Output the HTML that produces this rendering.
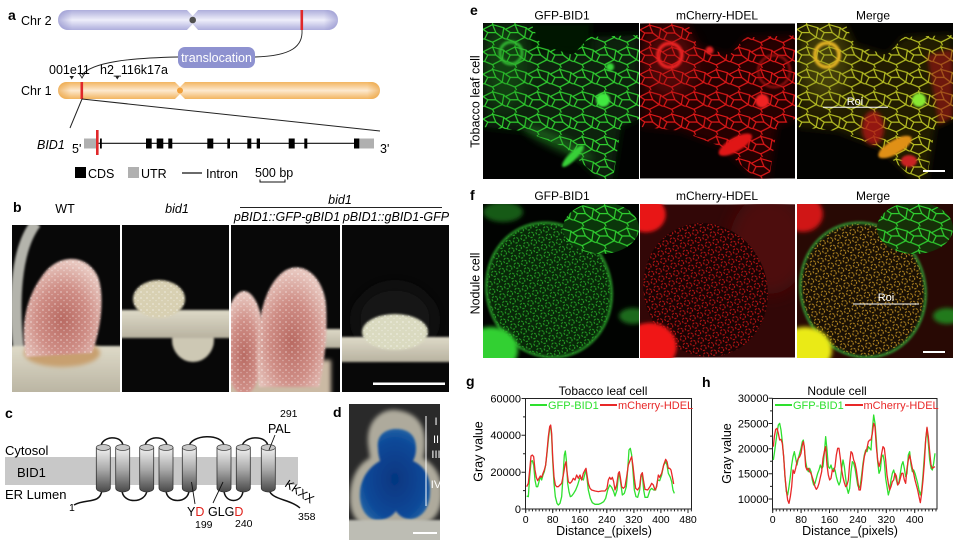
<!DOCTYPE html>
<html><head><meta charset="utf-8"><style>
html,body{margin:0;padding:0;background:#fff;}
svg{display:block;font-family:"Liberation Sans",Arial,sans-serif;}
</style></head><body>
<svg width="964" height="547" viewBox="0 0 964 547" xmlns="http://www.w3.org/2000/svg">
<defs>
 <linearGradient id="chr2" x1="0" y1="0" x2="0" y2="1"><stop offset="0" stop-color="#aeaedc"/><stop offset="0.5" stop-color="#eeeefa"/><stop offset="1" stop-color="#aeaedc"/></linearGradient>
 <linearGradient id="chr1" x1="0" y1="0" x2="0" y2="1"><stop offset="0" stop-color="#f2b560"/><stop offset="0.5" stop-color="#fde9cf"/><stop offset="1" stop-color="#f2b560"/></linearGradient>
 <linearGradient id="endsB" x1="0" y1="0" x2="1" y2="0"><stop offset="0" stop-color="#8888c8" stop-opacity=".6"/><stop offset=".05" stop-color="#8888c8" stop-opacity="0"/><stop offset=".95" stop-color="#8888c8" stop-opacity="0"/><stop offset="1" stop-color="#8888c8" stop-opacity=".6"/></linearGradient>
 <linearGradient id="endsO" x1="0" y1="0" x2="1" y2="0"><stop offset="0" stop-color="#e89a30" stop-opacity=".6"/><stop offset=".04" stop-color="#e89a30" stop-opacity="0"/><stop offset=".96" stop-color="#e89a30" stop-opacity="0"/><stop offset="1" stop-color="#e89a30" stop-opacity=".6"/></linearGradient>
 <linearGradient id="cyl" x1="0" y1="0" x2="0" y2="1"><stop offset="0" stop-color="#f2f2f2"/><stop offset="0.5" stop-color="#a8a8a8"/><stop offset="1" stop-color="#484848"/></linearGradient>
 <linearGradient id="beige" x1="0" y1="0" x2="0" y2="1"><stop offset="0" stop-color="#dedac8"/><stop offset="1" stop-color="#b8b2a0"/></linearGradient>
 <radialGradient id="pink" cx=".5" cy=".62" r=".6"><stop offset="0" stop-color="#b86a62"/><stop offset=".55" stop-color="#cf8e86"/><stop offset="1" stop-color="#e8c8c0"/></radialGradient>
 <radialGradient id="blue" cx=".5" cy=".55" r=".6"><stop offset="0" stop-color="#063680"/><stop offset=".7" stop-color="#0a4898"/><stop offset="1" stop-color="#2a6aa8"/></radialGradient>
 <filter id="b1" x="-50%" y="-50%" width="200%" height="200%"><feGaussianBlur stdDeviation="1"/></filter>
 <filter id="b2" x="-50%" y="-50%" width="200%" height="200%"><feGaussianBlur stdDeviation="2"/></filter>
 <filter id="b4" x="-50%" y="-50%" width="200%" height="200%"><feGaussianBlur stdDeviation="4"/></filter>
 <filter id="b8" x="-50%" y="-50%" width="200%" height="200%"><feGaussianBlur stdDeviation="8"/></filter>
 <pattern id="speck" width="6" height="6" patternUnits="userSpaceOnUse"><circle cx="1" cy="1" r=".9" fill="#fff" fill-opacity=".45"/><circle cx="4" cy="3.6" r=".7" fill="#fff" fill-opacity=".35"/></pattern>
 <pattern id="ng" width="14" height="14" patternUnits="userSpaceOnUse" patternTransform="scale(1.6)"><path d="M0 4 L6 1 L13 3 L14 4 M6 1 L6 0 M13 3 L12 9 L14 10 M12 9 L6 12 L7 14 M6 12 L1 10 L0 10 M1 10 L3 6 L0 4 M3 6 L8 6 L12 9 M8 6 L6 1" fill="none" stroke="#30d030" stroke-width="0.75"/></pattern>
 <pattern id="nr" width="14" height="14" patternUnits="userSpaceOnUse" patternTransform="scale(1.6)"><path d="M0 4 L6 1 L13 3 L14 4 M6 1 L6 0 M13 3 L12 9 L14 10 M12 9 L6 12 L7 14 M6 12 L1 10 L0 10 M1 10 L3 6 L0 4 M3 6 L8 6 L12 9 M8 6 L6 1" fill="none" stroke="#e01818" stroke-width="0.75"/></pattern>
 <pattern id="ny" width="14" height="14" patternUnits="userSpaceOnUse" patternTransform="scale(1.6)"><path d="M0 4 L6 1 L13 3 L14 4 M6 1 L6 0 M13 3 L12 9 L14 10 M12 9 L6 12 L7 14 M6 12 L1 10 L0 10 M1 10 L3 6 L0 4 M3 6 L8 6 L12 9 M8 6 L6 1" fill="none" stroke="#b8c024" stroke-width="0.75"/></pattern>
 <pattern id="nfg" width="8" height="8" patternUnits="userSpaceOnUse"><circle cx="4" cy="4" r="2.7" fill="none" stroke="#28a828" stroke-width="1" stroke-dasharray="2.2 1.2"/></pattern>
 <pattern id="nfr" width="8" height="8" patternUnits="userSpaceOnUse"><circle cx="4" cy="4" r="2.7" fill="none" stroke="#c81616" stroke-width="1" stroke-dasharray="2.2 1.2"/></pattern>
 <pattern id="nfy" width="8" height="8" patternUnits="userSpaceOnUse"><circle cx="4" cy="4" r="2.7" fill="none" stroke="#c09024" stroke-width="1" stroke-dasharray="2.2 1.2"/></pattern>
</defs>

<!-- ================= PANEL A ================= -->
<text x="8" y="20" font-size="14" font-weight="bold">a</text>
<text x="21" y="25" font-size="12.5">Chr 2</text>
<rect x="58" y="10" width="280" height="20" rx="10" fill="url(#chr2)"/>
<rect x="58" y="10" width="280" height="20" rx="10" fill="url(#endsB)"/>
<polygon points="186,9 199,9 192.7,16" fill="#fff"/>
<polygon points="186,31 199,31 192.7,24" fill="#fff"/>
<circle cx="192.7" cy="20" r="3.3" fill="#505050"/>
<rect x="300.5" y="10" width="2.6" height="20" fill="#e0282a"/>
<path d="M302 30 C 303 46, 292 56, 255 57" fill="none" stroke="#222" stroke-width="0.9"/>
<rect x="178" y="47" width="77" height="21" rx="7" fill="#8e92d0"/>
<text x="216.5" y="62" font-size="12.5" fill="#fff" text-anchor="middle">translocation</text>
<path d="M178 57 C 130 58, 92 62, 82 75" fill="none" stroke="#222" stroke-width="0.9"/>
<path d="M79 73 L82 78 L85 73" fill="none" stroke="#222" stroke-width="0.9"/>
<text x="49" y="74" font-size="12.5">001e11</text>
<text x="100" y="74" font-size="12.5">h2_116k17a</text>
<polygon points="69.5,76 74,76 71.7,79.5" fill="#222"/>
<polygon points="115,76 119.5,76 117.3,79.5" fill="#222"/>
<text x="21" y="95" font-size="12.5">Chr 1</text>
<rect x="58" y="82" width="322" height="17" rx="8.5" fill="url(#chr1)"/>
<rect x="58" y="82" width="322" height="17" rx="8.5" fill="url(#endsO)"/>
<polygon points="174,81 186,81 180,87" fill="#fff"/>
<polygon points="174,100 186,100 180,94" fill="#fff"/>
<circle cx="180" cy="90.5" r="3" fill="#f2a03a"/>
<rect x="80.5" y="82" width="2.6" height="17" fill="#e0282a"/>
<path d="M82 99 L70 128 M82 99 L380 131" stroke="#222" stroke-width="1" fill="none"/>
<text x="37" y="149" font-size="12.5" font-style="italic">BID1</text>
<text x="72" y="153" font-size="12.5">5'</text>
<text x="380" y="153" font-size="12.5">3'</text>
<line x1="96" y1="143.3" x2="360" y2="143.3" stroke="#111" stroke-width="1.2"/>
<rect x="84" y="138.5" width="13" height="10" fill="#b0b0b0"/>
<rect x="359" y="138.5" width="15" height="10" fill="#b0b0b0"/>
<g fill="#000">
<rect x="100" y="138.5" width="1.8" height="10"/>
<rect x="146" y="138.5" width="5.7" height="10"/>
<rect x="156.7" y="138.5" width="6.6" height="10"/>
<rect x="168.3" y="138.5" width="4" height="10"/>
<rect x="207.3" y="138.5" width="6" height="10"/>
<rect x="227.3" y="138.5" width="2.7" height="10"/>
<rect x="247.3" y="138.5" width="4" height="10"/>
<rect x="256.7" y="138.5" width="3.3" height="10"/>
<rect x="288.7" y="138.5" width="6" height="10"/>
<rect x="304.3" y="138.5" width="3" height="10"/>
<rect x="354" y="138.5" width="5.3" height="10"/>
</g>
<rect x="96" y="130" width="2.6" height="25" fill="#e0282a"/>
<rect x="75" y="167" width="11" height="11" fill="#000"/>
<text x="88" y="178" font-size="12.5">CDS</text>
<rect x="128" y="167" width="11" height="11" fill="#b0b0b0"/>
<text x="141" y="178" font-size="12.5">UTR</text>
<line x1="182" y1="173" x2="202" y2="173" stroke="#111" stroke-width="1.2"/>
<text x="206" y="178" font-size="12.5">Intron</text>
<text x="255" y="177" font-size="12.5">500 bp</text>
<path d="M260 179.5 L260 182 L285 182 L285 179.5" fill="none" stroke="#111" stroke-width="1"/>

<!-- ================= PANEL B ================= -->
<text x="13" y="212" font-size="14" font-weight="bold">b</text>
<text x="65" y="213" font-size="12.5" text-anchor="middle">WT</text>
<text x="177" y="213" font-size="12.5" font-style="italic" text-anchor="middle">bid1</text>
<text x="340" y="204" font-size="12.5" font-style="italic" text-anchor="middle">bid1</text>
<line x1="240" y1="207.5" x2="442" y2="207.5" stroke="#222" stroke-width="0.9"/>
<text x="287" y="221" font-size="12.5" font-style="italic" text-anchor="middle">pBID1::GFP-gBID1</text>
<text x="396" y="221" font-size="12.5" font-style="italic" text-anchor="middle">pBID1::gBID1-GFP</text>

<svg x="12" y="225" width="108" height="167" viewBox="0 0 108 167">
 <rect width="108" height="167" fill="#080808"/>
 <path d="M7 128 C 1 80, 3 25, 24 -2" stroke="#b4b4ac" stroke-width="11" fill="none" filter="url(#b1)"/>
 <rect x="-5" y="121" width="118" height="50" fill="url(#beige)" filter="url(#b1)"/>
 <ellipse cx="50" cy="128" rx="38" ry="14" fill="#c8a070" filter="url(#b2)"/>
 <path d="M14 132 C 8 100, 14 70, 34 46 C 50 28, 76 30, 86 52 C 93 72, 89 104, 80 128 Z" fill="url(#pink)" filter="url(#b1)"/>
 <path d="M14 132 C 8 100, 14 70, 34 46 C 50 28, 76 30, 86 52 C 93 72, 89 104, 80 128 Z" fill="url(#speck)"/>
</svg>

<svg x="122" y="225" width="107" height="167" viewBox="0 0 107 167">
 <rect width="107" height="167" fill="#080808"/>
 <ellipse cx="71" cy="115" rx="21" ry="22" fill="#cdc8b4" filter="url(#b1)"/>
 <rect x="-5" y="85" width="117" height="28" fill="url(#beige)" filter="url(#b1)"/>
 <ellipse cx="37" cy="74" rx="26" ry="19" fill="#d8d0b2" filter="url(#b1)"/>
 <ellipse cx="37" cy="74" rx="26" ry="19" fill="url(#speck)"/>
</svg>

<svg x="231" y="225" width="109" height="167" viewBox="0 0 109 167">
 <rect width="109" height="167" fill="#080808"/>
 <rect x="78" y="104" width="40" height="19" fill="url(#beige)" filter="url(#b1)"/>
 <rect x="-5" y="135" width="105" height="40" fill="#cbbaa4" filter="url(#b2)"/>
 <ellipse cx="13" cy="118" rx="20" ry="52" fill="url(#pink)" filter="url(#b1)"/>
 <path d="M28 162 C 22 110, 30 60, 55 45 C 75 35, 93 55, 95 80 C 97 110, 93 140, 88 162 Z" fill="url(#pink)" filter="url(#b1)"/>
 <path d="M28 162 C 22 110, 30 60, 55 45 C 75 35, 93 55, 95 80 C 97 110, 93 140, 88 162 Z" fill="url(#speck)"/>
 <ellipse cx="13" cy="118" rx="20" ry="52" fill="url(#speck)"/>
</svg>

<svg x="342" y="225" width="107" height="167" viewBox="0 0 107 167">
 <rect width="107" height="167" fill="#080808"/>
 <ellipse cx="53" cy="95" rx="40" ry="35" fill="#151515" filter="url(#b8)"/>
 <rect x="-5" y="112" width="117" height="25" fill="url(#beige)" filter="url(#b1)"/>
 <ellipse cx="53" cy="107" rx="33" ry="18" fill="#dadac0" filter="url(#b1)"/>
 <ellipse cx="53" cy="107" rx="33" ry="18" fill="url(#speck)"/>
 <rect x="31" y="157.5" width="72" height="2.5" fill="#fff"/>
</svg>

<!-- ================= PANEL C ================= -->
<text x="5" y="418" font-size="14" font-weight="bold">c</text>
<rect x="5" y="457" width="293" height="28" fill="#c8c8c8"/>
<text x="5" y="455" font-size="13">Cytosol</text>
<text x="17" y="477" font-size="13">BID1</text>
<text x="5" y="499" font-size="13">ER Lumen</text>
<g fill="none" stroke="#111" stroke-width="1.5">
 <path d="M101 447 C 101 436, 122 434, 123 446"/>
 <path d="M145 447 C 145 436, 166 434, 167 446"/>
 <path d="M189 447 C 190 434, 223 433, 224 446"/>
 <path d="M242 447 C 243 436, 266 434, 268 446"/>
 <path d="M122 490 C 122 504, 146 504, 147 490"/>
 <path d="M166 490 C 166 504, 189 504, 189 490"/>
 <path d="M224 490 C 224 504, 243 504, 243 490"/>
 <path d="M102 490 C 100 505, 86 498, 74 505"/>
 <path d="M269 490 C 272 500, 290 499, 300 508"/>
</g>
<g stroke="#333" stroke-width="0.8" fill="url(#cyl)">
 <path d="M96.3 447.5 V 488 A 7 4 0 0 0 110.3 488 V 447.5 Z"/>
 <path d="M115.7 447.5 V 488 A 7 4 0 0 0 129.7 488 V 447.5 Z"/>
 <path d="M139.7 447.5 V 488 A 7 4 0 0 0 153.7 488 V 447.5 Z"/>
 <path d="M159 447.5 V 488 A 7 4 0 0 0 173 488 V 447.5 Z"/>
 <path d="M182.3 447.5 V 488 A 7 4 0 0 0 196.3 488 V 447.5 Z"/>
 <path d="M217 447.5 V 488 A 7 4 0 0 0 231 488 V 447.5 Z"/>
 <path d="M236.3 447.5 V 488 A 7 4 0 0 0 250.3 488 V 447.5 Z"/>
 <path d="M261.3 447.5 V 488 A 7 4 0 0 0 275.3 488 V 447.5 Z"/>
</g>
<g stroke="#444" stroke-width="0.7" fill="#c8c8c8">
 <ellipse cx="103.3" cy="447.5" rx="7" ry="3"/><ellipse cx="122.7" cy="447.5" rx="7" ry="3"/>
 <ellipse cx="146.7" cy="447.5" rx="7" ry="3"/><ellipse cx="166" cy="447.5" rx="7" ry="3"/>
 <ellipse cx="189.3" cy="447.5" rx="7" ry="3"/><ellipse cx="224" cy="447.5" rx="7" ry="3"/>
 <ellipse cx="243.3" cy="447.5" rx="7" ry="3"/><ellipse cx="268.3" cy="447.5" rx="7" ry="3"/>
</g>
<g stroke="#111" stroke-width="0.9">
 <line x1="195" y1="504" x2="191.5" y2="482"/>
 <line x1="213" y1="503" x2="223" y2="482"/>
 <line x1="275" y1="435" x2="269" y2="450"/>
</g>
<text x="187" y="516" font-size="12.5">Y<tspan fill="#e0201a">D</tspan></text>
<text x="208" y="516" font-size="12.5">GLG<tspan fill="#e0201a">D</tspan></text>
<text x="195" y="528" font-size="10.5">199</text>
<text x="235" y="527" font-size="10.5">240</text>
<text x="280" y="417" font-size="10.5">291</text>
<text x="268" y="433" font-size="12.5">PAL</text>
<text x="69" y="511" font-size="10.5">1</text>
<text x="298" y="520" font-size="10.5">358</text>
<text transform="translate(284 486) rotate(34)" font-size="12">KKXX</text>

<!-- ================= PANEL D ================= -->
<text x="333" y="417" font-size="14" font-weight="bold">d</text>
<svg x="349" y="404" width="91" height="136" viewBox="1 0 91 136">
 <rect x="0" width="97" height="139" fill="#2a2a2a"/>
 <path d="M20 40 C 18 14, 36 5, 47 6 C 62 7, 77 15, 77 38 C 77 46, 76 51, 75 54 C 89 62, 95 76, 94 92 C 93 108, 86 118, 72 121 L 18 122 C 5 117, 1 104, 2 90 C 3 74, 10 60, 22 54 Z" fill="#aeaa9c" filter="url(#b2)"/>
 <path d="M30 44 C 28 30, 39 25, 48 25 C 59 25, 68 30, 68 44 C 68 51, 66 55, 65 57 C 76 62, 83 72, 82 88 C 82 103, 75 113, 64 115 C 56 116, 50 111, 48 107 C 44 113, 36 117, 27 116 C 16 113, 11 101, 12 88 C 13 74, 21 63, 32 57 C 31 53, 30 49, 30 44 Z" fill="url(#blue)" filter="url(#b1)"/>
 <rect x="-5" y="116" width="107" height="24" fill="#bdbdb4" filter="url(#b1)"/>
 <line x1="78" y1="12" x2="78" y2="102" stroke="#fff" stroke-width="1"/>
 <g fill="#fff" font-size="11" text-anchor="middle"><text x="88" y="21">I</text><text x="88" y="39">II</text><text x="88" y="54">III</text><text x="88" y="84">IV</text></g>
 <rect x="65" y="128" width="24" height="2" fill="#fff"/>
</svg>

<!-- ================= PANEL E ================= -->
<text x="470" y="15" font-size="14" font-weight="bold">e</text>
<text transform="translate(479.5 101.5) rotate(-90)" font-size="12.5" text-anchor="middle">Tobacco leaf cell</text>
<text x="562" y="19.5" font-size="12" text-anchor="middle">GFP-BID1</text>
<text x="717" y="19.5" font-size="12" text-anchor="middle">mCherry-HDEL</text>
<text x="873" y="19.5" font-size="12" text-anchor="middle">Merge</text>

<svg x="483" y="23" width="156" height="156" viewBox="0 0 156 156">
 <rect width="156" height="156" fill="#010201"/>
 <polygon points="0,0 48,0 58,22 90,32 106,14 156,12 156,96 138,104 130,156 116,156 82,124 40,108 0,104" fill="#082008" filter="url(#b4)"/>
 <rect x="48" y="0" width="60" height="30" fill="#061406" filter="url(#b4)"/>
 <polygon points="0,0 48,0 58,22 90,32 106,14 156,12 156,96 138,104 130,156 116,156 82,124 40,108 0,104" fill="url(#ng)"/>
 <ellipse cx="22" cy="45" rx="22" ry="40" fill="#1f8a1f" opacity=".3" filter="url(#b8)"/>
 <ellipse cx="75" cy="120" rx="38" ry="7" transform="rotate(25 75 120)" fill="#2aa02a" opacity=".45" filter="url(#b4)"/>
 <circle cx="120" cy="77" r="7" fill="#40e840" filter="url(#b1)"/>
 <circle cx="127" cy="44" r="4" fill="#38d838" filter="url(#b1)"/>
 <ellipse cx="90" cy="133" rx="15" ry="4" transform="rotate(-45 90 133)" fill="#38d038" filter="url(#b1)"/>
 <circle cx="28" cy="30" r="11" fill="none" stroke="#30b830" stroke-width="3" filter="url(#b1)"/>
</svg>

<svg x="640" y="23" width="155" height="156" viewBox="0 0 156 156">
 <rect width="156" height="156" fill="#050101"/>
 <polygon points="0,0 48,0 58,22 90,32 106,14 156,12 156,96 138,104 130,156 116,156 82,124 40,108 0,104" fill="#280606" filter="url(#b4)"/>
 <polygon points="0,0 48,0 58,22 90,32 106,14 156,12 156,96 138,104 130,156 116,156 82,124 40,108 0,104" fill="url(#nr)"/>
 <ellipse cx="30" cy="40" rx="26" ry="36" fill="#a01818" opacity=".35" filter="url(#b8)"/>
 <circle cx="30" cy="32" r="12" fill="none" stroke="#e82020" stroke-width="4" filter="url(#b1)"/>
 <circle cx="70" cy="27" r="4" fill="#e02222" filter="url(#b1)"/>
 <circle cx="123" cy="78" r="7" fill="#f02222" filter="url(#b1)"/>
 <ellipse cx="96" cy="122" rx="19" ry="7" transform="rotate(-30 96 122)" fill="#e01818" filter="url(#b1)"/>
 <circle cx="135" cy="48" r="16" fill="none" stroke="#b01414" stroke-width="2.5" opacity=".8" filter="url(#b1)"/>
</svg>

<svg x="797" y="23" width="156" height="156" viewBox="0 0 156 156">
 <rect width="156" height="156" fill="#030301"/>
 <polygon points="0,0 48,0 58,22 90,32 106,14 156,12 156,96 138,104 130,156 116,156 82,124 40,108 0,104" fill="#201e06" filter="url(#b4)"/>
 <polygon points="0,0 48,0 58,22 90,32 106,14 156,12 156,96 138,104 130,156 116,156 82,124 40,108 0,104" fill="url(#ny)"/>
 <ellipse cx="76" cy="105" rx="11" ry="17" fill="#b01818" opacity=".8" filter="url(#b2)"/>
 <polygon points="130,32 156,26 156,94 142,102" fill="#a01212" opacity=".6" filter="url(#b2)"/>
 <ellipse cx="28" cy="42" rx="24" ry="38" fill="#909020" opacity=".3" filter="url(#b8)"/>
 <circle cx="30" cy="32" r="12" fill="none" stroke="#e0b020" stroke-width="4" filter="url(#b1)"/>
 <circle cx="122" cy="77" r="7" fill="#88e830" filter="url(#b1)"/>
 <ellipse cx="98" cy="124" rx="19" ry="7" transform="rotate(-30 98 124)" fill="#e09018" filter="url(#b1)"/>
 <ellipse cx="112" cy="138" rx="8" ry="6" fill="#c82020" filter="url(#b1)"/>
 <line x1="26" y1="84.3" x2="91" y2="84.3" stroke="#fff" stroke-width="1"/>
 <text x="58" y="82" font-size="11" fill="#fff" text-anchor="middle">Roi</text>
 <rect x="126" y="147" width="22" height="2" fill="#fff"/>
</svg>

<!-- ================= PANEL F ================= -->
<text x="470" y="200" font-size="14" font-weight="bold">f</text>
<text transform="translate(479.5 283.5) rotate(-90)" font-size="12.5" text-anchor="middle">Nodule cell</text>
<text x="562" y="200" font-size="12" text-anchor="middle">GFP-BID1</text>
<text x="717" y="200" font-size="12" text-anchor="middle">mCherry-HDEL</text>
<text x="873" y="200" font-size="12" text-anchor="middle">Merge</text>

<svg x="483" y="204" width="156" height="154" viewBox="0 0 156 154">
 <rect width="156" height="154" fill="#010301"/>
 <ellipse cx="66" cy="86" rx="62" ry="68" transform="rotate(-20 66 86)" fill="#082808"/>
 <ellipse cx="66" cy="86" rx="62" ry="68" transform="rotate(-20 66 86)" fill="url(#nfg)"/>
 <ellipse cx="66" cy="86" rx="62" ry="68" transform="rotate(-20 66 86)" fill="none" stroke="#259025" stroke-width="2.5" filter="url(#b1)"/>
 <ellipse cx="118" cy="24" rx="38" ry="26" fill="#0a360a"/>
 <ellipse cx="118" cy="24" rx="38" ry="26" fill="url(#ng)"/>
 <ellipse cx="150" cy="112" rx="14" ry="8" fill="#1a6a1a" filter="url(#b2)"/>
 <ellipse cx="20" cy="8" rx="20" ry="10" fill="#145a14" filter="url(#b2)"/>
 <ellipse cx="8" cy="146" rx="27" ry="23" fill="#30d030" filter="url(#b2)"/>
</svg>

<svg x="640" y="204" width="155" height="154" viewBox="0 0 156 154">
 <rect width="156" height="154" fill="#320707"/>
 <ellipse cx="130" cy="40" rx="40" ry="50" fill="#4e0e0e" filter="url(#b8)"/>
 <ellipse cx="66" cy="86" rx="62" ry="68" transform="rotate(-20 66 86)" fill="#1a0303"/>
 <ellipse cx="66" cy="86" rx="62" ry="68" transform="rotate(-20 66 86)" fill="url(#nfr)"/>
 <ellipse cx="6" cy="10" rx="20" ry="18" fill="#e81212" filter="url(#b2)"/>
 <ellipse cx="10" cy="143" rx="27" ry="24" fill="#f01414" filter="url(#b2)"/>
</svg>

<svg x="797" y="204" width="156" height="154" viewBox="0 0 156 154">
 <rect width="156" height="154" fill="#280904"/>
 <ellipse cx="66" cy="86" rx="62" ry="68" transform="rotate(-20 66 86)" fill="#1a1004"/>
 <ellipse cx="66" cy="86" rx="62" ry="68" transform="rotate(-20 66 86)" fill="url(#nfy)"/>
 <ellipse cx="66" cy="86" rx="62" ry="68" transform="rotate(-20 66 86)" fill="none" stroke="#309030" stroke-width="2.5" filter="url(#b1)"/>
 <ellipse cx="118" cy="24" rx="38" ry="26" fill="#163008"/>
 <ellipse cx="118" cy="24" rx="38" ry="26" fill="url(#ng)"/>
 <ellipse cx="6" cy="10" rx="20" ry="18" fill="#d01212" filter="url(#b2)"/>
 <ellipse cx="150" cy="112" rx="14" ry="8" fill="#247a1c" filter="url(#b2)"/>
 <ellipse cx="8" cy="146" rx="27" ry="23" fill="#eaea18" filter="url(#b2)"/>
 <line x1="56" y1="100" x2="122" y2="100" stroke="#fff" stroke-width="1"/>
 <text x="89" y="97" font-size="11" fill="#fff" text-anchor="middle">Roi</text>
 <rect x="126" y="147" width="22" height="2" fill="#fff"/>
</svg>

<!-- ================= PANEL G ================= -->
<text x="466" y="386" font-size="14" font-weight="bold">g</text>
<text x="603" y="395" font-size="12" text-anchor="middle">Tobacco leaf cell</text>
<text transform="translate(482.5 451.5) rotate(-90)" font-size="12.5" text-anchor="middle">Gray value</text>
<g font-size="11" text-anchor="end">
 <text x="521" y="402.3">60000</text><text x="521" y="439.1">40000</text><text x="521" y="476">20000</text><text x="521" y="512.8">0</text>
</g>
<g font-size="10.5" text-anchor="middle">
 <text x="525.7" y="523">0</text><text x="552.7" y="523">80</text><text x="579.8" y="523">160</text><text x="606.8" y="523">240</text><text x="633.9" y="523">320</text><text x="660.9" y="523">400</text><text x="688" y="523">480</text>
</g>
<text x="604" y="535" font-size="12.5" text-anchor="middle">Distance_(pixels)</text>
<rect x="525.5" y="398.5" width="166" height="110.5" fill="none" stroke="#222" stroke-width="1"/>
<line x1="525.2" y1="510.2" x2="692" y2="510.2" stroke="#222" stroke-width="2.4" stroke-dasharray="1 2.381"/>
<path d="M525.7 509v4 M552.7 509v4 M579.8 509v4 M606.8 509v4 M633.9 509v4 M660.9 509v4 M688 509v4 M525.5 509h-4 M525.5 472.2h-4 M525.5 435.3h-4 M525.5 398.5h-4 M525.5 490.6h-2.5 M525.5 453.7h-2.5 M525.5 416.9h-2.5" stroke="#222" stroke-width="1" fill="none"/>
<line x1="530" y1="405" x2="547" y2="405" stroke="#2ee02e" stroke-width="2"/>
<text x="548" y="409" font-size="11" fill="#2ee02e">GFP-BID1</text>
<line x1="600" y1="405" x2="617" y2="405" stroke="#e82828" stroke-width="2"/>
<text x="618" y="409" font-size="11" fill="#e82828">mCherry-HDEL</text>
<g transform="translate(515 390) scale(0.333333)" fill="none" stroke-width="1.3" stroke-linejoin="round">
<polyline vector-effect="non-scaling-stroke" stroke="#2ee02e" points="35,318 40,320 44,260 48,215 52,212 56,225 60,270 64,290 68,290 72,275 76,260 80,270 84,255 88,245 92,225 96,190 100,150 104,115 107,110 110,140 113,210 117,280 121,320 126,340 130,345 135,340 140,320 144,260 148,195 151,183 154,210 158,280 162,305 166,320 170,318 176,310 182,300 188,285 194,265 200,265 205,270 210,250 213,240 216,265 220,300 226,325 232,338 240,343 250,343 258,340 266,335 272,325 278,300 284,285 290,292 296,305 300,318 306,300 310,260 313,252 318,285 322,315 328,310 334,290 338,240 342,180 346,175 350,195 354,245 358,300 363,320 368,322 374,300 378,260 382,255 386,300 390,322 398,322 405,300 410,295 416,300 422,300 428,270 434,272 440,255 446,225 452,215 456,225 460,250 466,262 470,275 474,300 478,310"/>
<polyline vector-effect="non-scaling-stroke" stroke="#e82828" points="35,290 40,280 45,230 48,198 52,195 56,200 60,240 64,262 68,272 72,265 76,258 80,262 84,250 88,240 92,225 96,185 100,140 104,110 107,105 110,130 113,200 117,260 121,285 125,290 130,290 135,285 140,280 145,255 150,225 153,215 156,245 160,275 165,280 170,275 175,265 180,270 185,255 190,265 195,255 200,270 205,250 210,240 213,235 216,255 220,280 225,295 230,300 240,303 250,305 260,303 270,303 276,295 280,270 284,262 288,268 292,262 296,275 300,300 305,285 310,250 313,245 316,262 320,290 325,295 330,290 335,260 340,225 345,212 350,200 354,228 358,265 362,295 368,300 374,290 378,255 382,248 386,275 390,298 398,300 405,290 410,280 415,285 420,300 425,290 430,255 434,262 440,250 446,225 452,208 456,215 460,235 464,235 468,240 472,260 476,282"/>
</g>

<!-- ================= PANEL H ================= -->
<text x="702" y="387" font-size="14" font-weight="bold">h</text>
<text x="837" y="395" font-size="12" text-anchor="middle">Nodule cell</text>
<text transform="translate(731 453.5) rotate(-90)" font-size="12.5" text-anchor="middle">Gray value</text>
<g font-size="11" text-anchor="end">
 <text x="768.5" y="402.1">30000</text><text x="768.5" y="427.3">25000</text><text x="768.5" y="452.5">20000</text><text x="768.5" y="477.6">15000</text><text x="768.5" y="502.8">10000</text>
</g>
<g font-size="10.5" text-anchor="middle">
 <text x="772.7" y="523">0</text><text x="801.1" y="523">80</text><text x="829.5" y="523">160</text><text x="857.9" y="523">240</text><text x="886.3" y="523">320</text><text x="914.7" y="523">400</text>
</g>
<text x="850" y="535" font-size="12.5" text-anchor="middle">Distance_(pixels)</text>
<rect x="772.5" y="398.5" width="164.5" height="110.5" fill="none" stroke="#222" stroke-width="1"/>
<line x1="772.2" y1="510.2" x2="937" y2="510.2" stroke="#222" stroke-width="2.4" stroke-dasharray="1 2.55"/>
<path d="M772.7 509v4 M801.1 509v4 M829.5 509v4 M857.9 509v4 M886.3 509v4 M914.7 509v4 M772.5 499h-4 M772.5 473.8h-4 M772.5 448.7h-4 M772.5 423.5h-4 M772.5 398.3h-4 M772.5 486.4h-2.5 M772.5 461.2h-2.5 M772.5 436.1h-2.5 M772.5 410.9h-2.5" stroke="#222" stroke-width="1" fill="none"/>
<line x1="775" y1="405" x2="792" y2="405" stroke="#2ee02e" stroke-width="2"/>
<text x="793" y="409" font-size="11" fill="#2ee02e">GFP-BID1</text>
<line x1="845" y1="405" x2="863" y2="405" stroke="#e82828" stroke-width="2"/>
<text x="863.5" y="409" font-size="11" fill="#e82828">mCherry-HDEL</text>
<g transform="translate(765 390) scale(0.333333)" fill="none" stroke-width="1.3" stroke-linejoin="round">
<polyline vector-effect="non-scaling-stroke" stroke="#2ee02e" points="25,210 28,190 32,160 36,130 40,105 44,100 48,120 52,155 56,200 60,260 64,305 68,315 72,290 76,260 80,225 84,200 88,185 92,205 96,225 100,205 104,190 108,175 112,155 115,150 118,175 122,215 126,235 130,245 134,235 138,245 142,270 146,285 150,280 154,265 158,250 162,240 166,225 170,235 174,230 178,190 182,140 186,180 190,230 194,235 198,225 202,240 206,235 210,240 214,260 218,275 222,285 226,275 230,235 234,210 238,230 242,265 246,295 250,310 254,295 258,245 262,215 266,220 270,235 274,260 278,285 282,295 286,285 290,255 294,220 298,195 302,180 306,185 310,170 314,175 318,180 322,120 326,75 330,100 334,150 338,215 342,250 346,240 350,200 354,195 358,215 362,265 366,290 370,315 374,300 378,270 382,250 386,240 390,255 394,270 398,285 402,275 406,250 410,225 414,215 418,235 422,260 426,250 430,195 434,185 438,225 442,245 446,240 450,250 454,265 458,280 462,300 466,315 470,300 474,255 478,200 482,150 486,115 490,160 494,210 498,235 502,240 506,220 510,190"/>
<polyline vector-effect="non-scaling-stroke" stroke="#e82828" points="25,170 28,140 32,118 36,115 40,130 44,150 48,148 52,160 56,200 60,260 64,300 68,330 72,340 76,320 80,290 84,240 88,250 92,235 96,215 100,205 104,200 108,190 112,165 115,155 118,170 122,230 126,240 130,235 134,245 138,250 142,262 146,275 150,290 154,298 158,292 162,280 166,262 170,245 174,205 178,185 182,170 186,225 190,255 194,270 198,265 202,240 206,245 210,230 214,195 218,175 222,175 226,205 230,240 234,262 238,278 242,290 246,285 250,270 254,220 258,185 262,190 266,210 270,220 274,240 278,270 282,300 286,300 290,270 294,230 298,200 302,185 306,175 310,155 314,150 318,150 322,130 326,100 330,110 334,170 338,210 342,230 346,215 350,190 354,170 358,175 362,210 366,255 370,280 374,300 378,290 382,275 386,270 390,250 394,258 398,285 402,280 406,265 410,250 414,250 418,270 422,280 426,235 430,210 434,195 438,215 442,235 446,250 450,270 454,285 458,300 462,320 466,338 470,310 474,270 478,220 482,150 486,112 490,140 494,185 498,225 502,235 506,232 510,230"/>
</g>
</svg>
</body></html>
